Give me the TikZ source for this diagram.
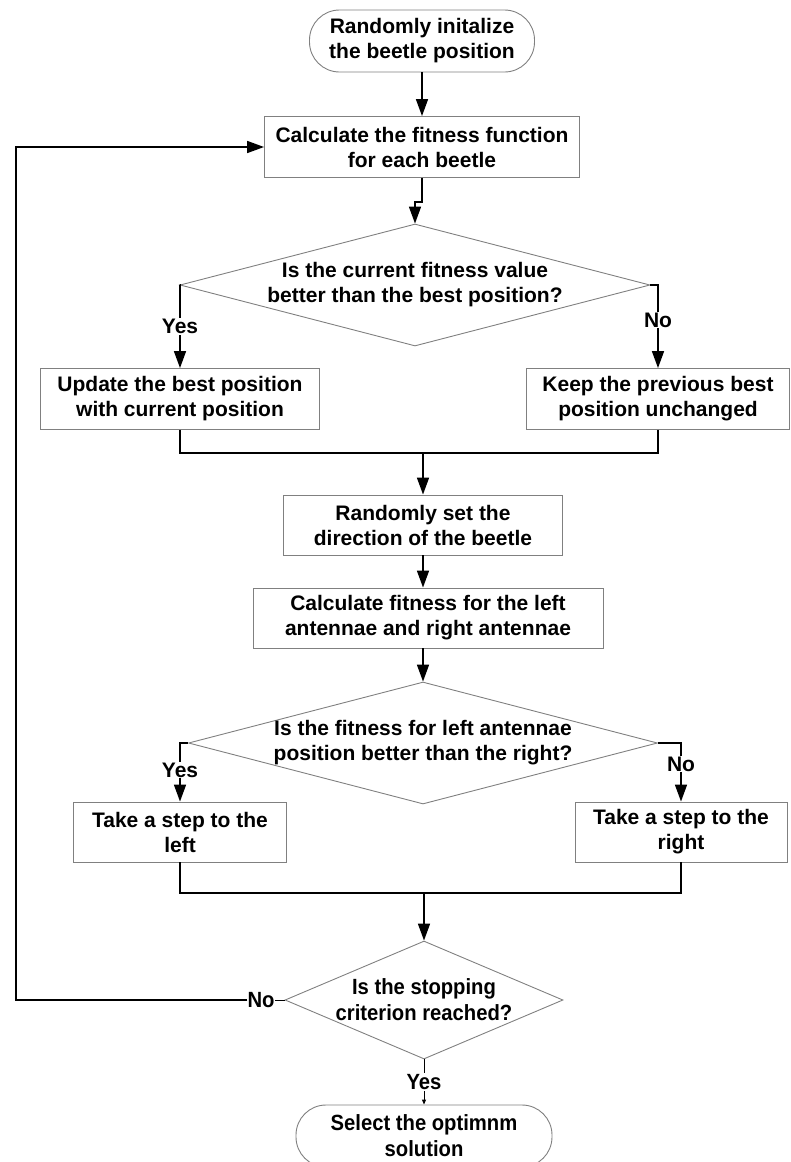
\documentclass[tikz,border=0pt]{standalone}
\usepackage{fontspec}
\setmainfont{Liberation Sans}
\newfontfamily\narrowfont[FakeStretch=0.92]{Liberation Sans}
\usetikzlibrary{positioning,arrows.meta,shapes.geometric}
\definecolor{BoxLine}{RGB}{128,128,128}

\begin{document}
\begin{tikzpicture}[x=1pt,y=-1pt,
proc/.style={draw=BoxLine,line width=0.9pt,minimum width=#1,minimum height=61pt,inner sep=0pt,font=\bfseries\fontsize{21}{25}\selectfont,align=center},
proc/.default=280pt,
term/.style={proc=#1,rounded corners=30pt,minimum height=62pt},
dec/.style args={#1/#2/#3}{diamond,aspect=#3,draw=BoxLine,line width=0.9pt,minimum width=#1pt,minimum height=#2pt,inner sep=-9pt,font=\bfseries\fontsize{21}{25}\selectfont,align=center},
lbl/.style={fill=white,inner sep=1pt,font=\bfseries\fontsize{21}{25}\selectfont},
arr/.style={line width=1.6pt,-{Triangle[length=17pt,width=12pt]}},
ln/.style={line width=1.6pt}
]
\useasboundingbox (0,0) rectangle (791,1162);
\clip (0,0) rectangle (791,1162);
% main column
\node[term=225pt] (start) at (422,41) {Randomly initalize\\the beetle position};
\node[proc=315pt] (fit) at (422,147) {Calculate the fitness function\\for each beetle};
\node[dec=470/122/3.85] (dec1) at (415,285) {Is the current fitness value\\better than the best position?};
\node[proc=279pt] (upd) at (180,399) {Update the best position\\with current position};
\node[proc=263pt] (keep) at (658,399) {Keep the previous best\\position unchanged};
\coordinate (mrg1) at (423,453);
\node[proc=279pt,minimum height=60pt] (rnd) at (423,525) {Randomly set the\\direction of the beetle};
\node[proc=350pt,minimum height=60pt] (cal) at (428,618) {Calculate fitness for the left\\antennae and right antennae};
\node[dec=469/122/3.84] (dec2) at (423,743) {Is the fitness for left antennae\\position better than the right?};
\node[proc=213pt,minimum height=60pt] (lft) at (180,832) {Take a step to the\\left};
\node[proc=212pt,minimum height=60pt] (rgt) at (681,832) {Take a step to the\\right};
\coordinate (mrg2) at (424,893);
\node[dec=278/118/2.36,font=\narrowfont\bfseries\fontsize{22}{26}\selectfont] (dec3) at (424,1000) {Is the stopping\\criterion reached?};
\node[term=256pt,font=\narrowfont\bfseries\fontsize{22}{26}\selectfont] (stop) at (424,1136) {Select the optimnm\\solution};
\node[lbl,font=\narrowfont\bfseries\fontsize{22}{26}\selectfont,inner sep=0pt] (no3) at (261,1000) {No};
\coordinate (loop) at (16,1000);

% connectors
\draw[arr] (start) -- (fit);
\draw[arr] (fit.south) -- ++(0,24) -| (dec1.north);
\draw[arr] (dec1.west) -| node[lbl,pos=0.75]{Yes} (upd.north);
\draw[arr] (dec1.east) -| node[lbl,pos=0.71]{No} (keep.north);
\draw[ln] (upd.south) |- (mrg1) -| (keep.south);
\draw[arr] (mrg1) -- (rnd.north);
\draw[arr] (rnd.south) -- (rnd.south |- cal.north);
\draw[arr] (rnd.south |- cal.south) -- (dec2.north);
\draw[arr] (dec2.west) -| node[lbl,pos=0.73]{Yes} (lft.north);
\draw[arr] (dec2.east) -| node[lbl,pos=0.68]{No} (rgt.north);
\draw[ln] (lft.south) |- (mrg2) -| (rgt.south);
\draw[arr] (mrg2) -- (dec3.north);
\draw[line width=0.9pt] (dec3.west) -- (no3.east);
\draw[arr] (no3.west) -- (loop) |- (fit.west);
\draw[line width=0.9pt,-{Triangle[length=5pt,width=4pt]}] (dec3.south) -- node[lbl,font=\narrowfont\bfseries\fontsize{22}{26}\selectfont]{Yes} (stop.north);
\end{tikzpicture}
\end{document}
